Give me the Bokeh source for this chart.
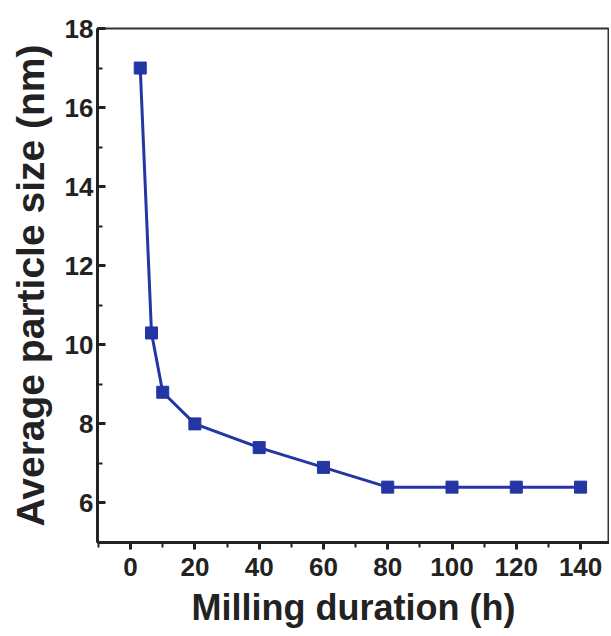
from bokeh.plotting import figure
from bokeh.models import ColumnDataSource, Range1d, FixedTicker
from bokeh.embed import file_html
from bokeh.resources import INLINE

# data
milling_h = [3, 6.5, 10, 20, 40, 60, 80, 100, 120, 140]
size_nm = [17.0, 10.3, 8.8, 8.0, 7.4, 6.9, 6.4, 6.4, 6.4, 6.4]
x_ticks = [0, 20, 40, 60, 80, 100, 120, 140]
y_ticks = [6, 8, 10, 12, 14, 16, 18]

src = ColumnDataSource(dict(x=milling_h, y=size_nm))
color = "#2436a3"
font = "Liberation Sans"

p = figure(width=609, height=630, output_backend="svg", toolbar_location=None,
           x_range=Range1d(-10.3, 149), y_range=Range1d(5.0, 18),
           min_border_left=97, min_border_right=0, min_border_top=28, min_border_bottom=87)
p.background_fill_color = "white"
p.border_fill_color = "white"
p.grid.visible = False
p.outline_line_color = "#333333"
p.outline_line_width = 2

p.line("x", "y", source=src, line_color=color, line_width=3)
p.scatter("x", "y", source=src, marker="square", size=12, fill_color=color, line_color=color)

p.xaxis.ticker = FixedTicker(ticks=x_ticks, minor_ticks=list(range(-10, 150, 10)))
p.yaxis.ticker = FixedTicker(ticks=y_ticks, minor_ticks=list(range(5, 19)))

for ax in (p.xaxis[0], p.yaxis[0]):
    ax.axis_line_width = 3
    ax.axis_line_color = "#222222"
    ax.major_tick_line_width = 3
    ax.minor_tick_line_width = 2
    ax.major_tick_line_color = "#222222"
    ax.minor_tick_line_color = "#222222"
    ax.major_label_text_font = font
    ax.major_label_text_font_style = "bold"
    ax.major_label_text_font_size = "26px"
    ax.major_label_text_color = "#222222"
    ax.axis_label_text_font = font
    ax.axis_label_text_font_style = "bold"
    ax.axis_label_text_color = "#222222"

# x ticks point outward, y ticks point inward
p.xaxis.major_tick_in = 0
p.xaxis.major_tick_out = 7
p.xaxis.minor_tick_in = 0
p.xaxis.minor_tick_out = 5
p.yaxis.major_tick_in = 8
p.yaxis.major_tick_out = 0
p.yaxis.minor_tick_in = 5
p.yaxis.minor_tick_out = 0

p.xaxis.axis_label_text_font_size = "36px"
p.yaxis.axis_label_text_font_size = "39px"
p.xaxis.axis_label = "Milling duration (h)"
p.yaxis.axis_label = "Average particle size (nm)"
p.xaxis.major_label_standoff = 8
p.yaxis.major_label_standoff = 4
p.xaxis.axis_label_standoff = 8
p.yaxis.axis_label_standoff = 10

open("out.html", "w").write(file_html(p, INLINE))
